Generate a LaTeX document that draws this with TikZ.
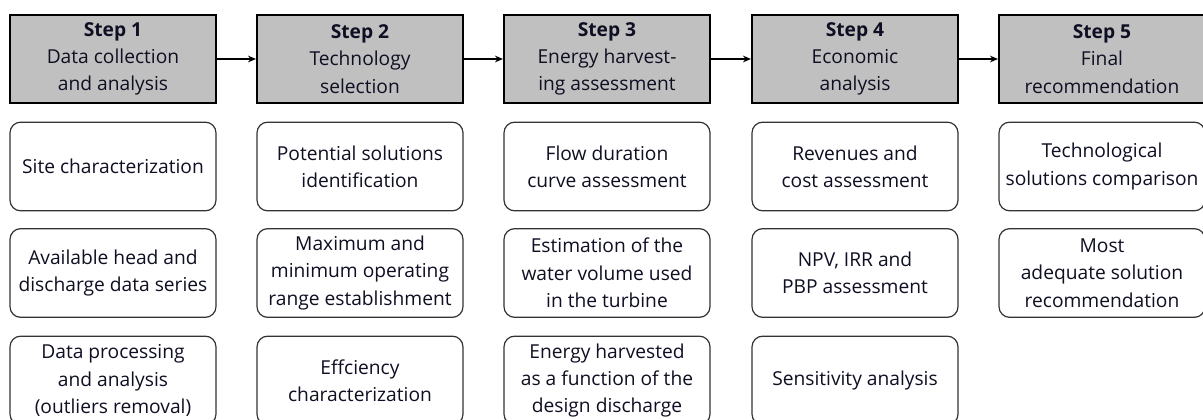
\documentclass[tikz,border=0pt]{standalone}
\usepackage{fontspec}
\setmainfont{Open Sans}
\usetikzlibrary{arrows.meta}
\definecolor{hdrgray}{RGB}{192,192,192}
\definecolor{txtcol}{RGB}{15,15,35}
\tikzset{
  hdr/.style={draw=black, line width=1.5pt, fill=hdrgray, minimum width=154.5pt, minimum height=66pt, align=center, inner sep=0pt, text=txtcol, font=\fontsize{14.4}{20.5}\selectfont},
  task/.style={draw=black!80, line width=0.9pt, rounded corners=8pt, fill=white, minimum width=154.5pt, minimum height=66.5pt, align=center, inner sep=0pt, text=txtcol, font=\fontsize{14.4}{20.5}\selectfont},
  flow/.style={line width=1.1pt, -{Stealth[length=6pt,width=5pt]}}
}
\begin{document}
\begin{tikzpicture}[x=0.75pt,y=-0.75pt]
\useasboundingbox (0,0) rectangle (1203,420);
\clip (0,0) rectangle (1203,420);
% headers
\node[hdr] (h1) at (113,59) {\textbf{Step 1}\\Data collection\\and analysis};
\node[hdr] (h2) at (360,59) {\textbf{Step 2}\\Technology\\selection};
\node[hdr] (h3) at (607,59) {\textbf{Step 3}\\Energy harvest-\\ing assessment};
\node[hdr] (h4) at (855,59) {\textbf{Step 4}\\Economic\\analysis};
\node[hdr] (h5) at (1102,59) {\textbf{Step 5}\\Final\\recommendation};
\draw[flow] (h1) -- (h2);
\draw[flow] (h2) -- (h3);
\draw[flow] (h3) -- (h4);
\draw[flow] (h4) -- (h5);
% column 1
\node[task] (a1) at (113,166.5) {Site characterization};
\node[task] (a2) at (113,273) {Available head and\\discharge data series};
\node[task] (a3) at (113,380.5) {Data processing\\and analysis\\(outliers removal)};
% column 2
\node[task] (b1) at (360,166.5) {Potential solutions\\identification};
\node[task] (b2) at (360,273) {Maximum and\\minimum operating\\range establishment};
\node[task] (b3) at (360,380.5) {Effciency\\characterization};
% column 3
\node[task] (c1) at (607,166.5) {Flow duration\\curve assessment};
\node[task] (c2) at (607,273) {Estimation of the\\water volume used\\in the turbine};
\node[task] (c3) at (607,380.5) {Energy harvested\\as a function of the\\design discharge};
% column 4
\node[task] (d1) at (855,166.5) {Revenues and\\cost assessment};
\node[task] (d2) at (855,273) {NPV, IRR and\\PBP assessment};
\node[task] (d3) at (855,380.5) {Sensitivity analysis};
% column 5
\node[task] (e1) at (1102,166.5) {Technological\\solutions comparison};
\node[task] (e2) at (1102,273) {Most\\adequate solution\\recommendation};
\end{tikzpicture}
\end{document}
